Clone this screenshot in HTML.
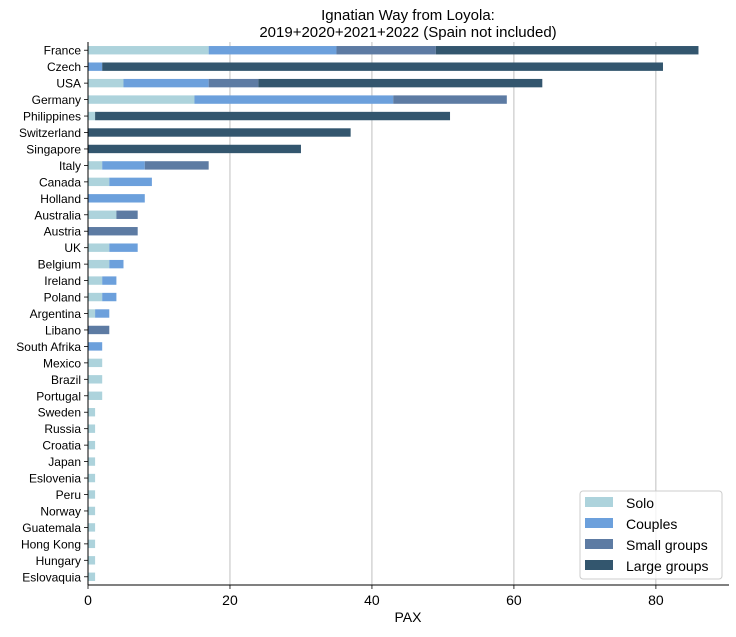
<!DOCTYPE html>
<html><head><meta charset="utf-8"><style>
body{margin:0;background:#fff;font-family:"Liberation Sans","DejaVu Sans",sans-serif}
</style></head><body>
<svg id="chart" width="736" height="632" xmlns="http://www.w3.org/2000/svg" font-family="Liberation Sans, DejaVu Sans, sans-serif">
<text x="408" y="20" text-anchor="middle" font-size="15">Ignatian Way from Loyola:</text>
<text x="408" y="37" text-anchor="middle" font-size="15">2019+2020+2021+2022 (Spain not included)</text>
<g id="grid"></g><g id="bars"></g><g id="axes"></g>
<g>
<rect x="580" y="491" width="142" height="88" rx="3" fill="#fff" fill-opacity="0.8" stroke="#ccc"/>
<rect x="585" y="497" width="28" height="10" fill="#add3dc"/>
<text x="626" y="508" font-size="14">Solo</text>
<rect x="585" y="518" width="28" height="10" fill="#6ca0dc"/>
<text x="626" y="529" font-size="14">Couples</text>
<rect x="585" y="539" width="28" height="10" fill="#5d7ba3"/>
<text x="626" y="550" font-size="14">Small groups</text>
<rect x="585" y="560" width="28" height="10" fill="#33566e"/>
<text x="626" y="571" font-size="14">Large groups</text>
</g>
<text x="408" y="622" text-anchor="middle" font-size="14">PAX</text>
</svg>
<script>
const countries=["France","Czech","USA","Germany","Philippines","Switzerland","Singapore","Italy","Canada","Holland","Australia","Austria","UK","Belgium","Ireland","Poland","Argentina","Libano","South Afrika","Mexico","Brazil","Portugal","Sweden","Russia","Croatia","Japan","Eslovenia","Peru","Norway","Guatemala","Hong Kong","Hungary","Eslovaquia"];
const solo=[17,0,5,15,1,0,0,2,3,0,4,0,3,3,2,2,1,0,0,2,2,2,1,1,1,1,1,1,1,1,1,1,1];
const couples=[18,2,12,28,0,0,0,6,6,8,0,0,4,2,2,2,2,0,2,0,0,0,0,0,0,0,0,0,0,0,0,0,0];
const smallGroups=[14,0,7,16,0,0,0,9,0,0,3,7,0,0,0,0,0,3,0,0,0,0,0,0,0,0,0,0,0,0,0,0,0];
const largeGroups=[37,79,40,0,50,37,30,0,0,0,0,0,0,0,0,0,0,0,0,0,0,0,0,0,0,0,0,0,0,0,0,0,0];
const xTicks=[0,20,40,60,80];
const NS="http://www.w3.org/2000/svg";
const L=88,R=729,T=42,B=585,XMAX=90.3;
const x=v=>L+v*(R-L)/XMAX;
const step=(B-T)/countries.length;
const y=i=>T+(i+0.5)*step;
function mk(t,a,p){const e=document.createElementNS(NS,t);for(const k in a)e.setAttribute(k,a[k]);p.appendChild(e);return e;}
const grid=document.getElementById('grid'),bars=document.getElementById('bars'),axes=document.getElementById('axes');
xTicks.forEach(t=>{
 const g=mk('line',{x1:x(t),x2:x(t),y1:T,y2:B,stroke:'#b0b0b0','stroke-width':0.8},grid);
 
 
 mk('line',{x1:x(t),x2:x(t),y1:B,y2:B+4,stroke:'#000','stroke-width':0.8},axes);
 const tx=mk('text',{x:x(t),y:B+20,'text-anchor':'middle','font-size':14},axes);
 tx.textContent=t;
 
 
});
const series=[[solo,'#add3dc','solo'],[couples,'#6ca0dc','couples'],[smallGroups,'#5d7ba3','small-groups'],[largeGroups,'#33566e','large-groups']];
const bh=8.4;
countries.forEach((c,i)=>{
 let acc=0;
 series.forEach(([arr,col,nm])=>{
  const v=arr[i];
  if(v>0){
   const r=mk('rect',{x:x(acc),y:y(i)-bh/2,width:x(acc+v)-x(acc),height:bh,fill:col},bars);
   
   
  }
  acc+=v;
 });
 mk('line',{x1:L-4,x2:L,y1:y(i),y2:y(i),stroke:'#000','stroke-width':0.8},axes);
 const t=mk('text',{x:L-7,y:y(i)+4.5,'text-anchor':'end','font-size':12},axes);
 t.textContent=c;
 
 
});
mk('line',{x1:L,x2:L,y1:T,y2:B,stroke:'#000','stroke-width':1},axes);
mk('line',{x1:L,x2:R,y1:B,y2:B,stroke:'#000','stroke-width':1},axes);
</script>
</body></html>
